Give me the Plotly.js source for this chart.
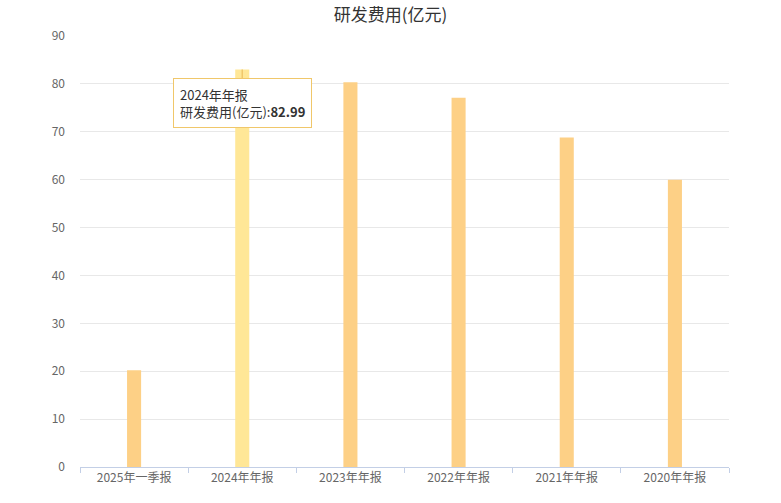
<!DOCTYPE html>
<html>
<head>
<meta charset="utf-8">
<script src="https://cdn.plot.ly/plotly-3.0.1.min.js"></script>
<style>
  html, body { margin: 0; padding: 0; background: #fff; }
  #chart { width: 781px; height: 503px; }
</style>
</head>
<body>
<div id="chart"></div>
<script>
var periods = ['2025年一季报', '2024年年报', '2023年年报', '2022年年报', '2021年年报', '2020年年报'];
var rdCost = [20.2, 82.99, 80.35, 77.1, 68.8, 60.0];
var seriesName = '研发费用(亿元)';
var hoverIndex = 1;

var barColors = periods.map(function (p, i) {
    return i === hoverIndex ? '#ffe797' : '#fdd086';
});

var data = [{
    type: 'bar',
    x: periods,
    y: rdCost,
    width: 0.13,
    marker: { color: barColors },
    hoverinfo: 'none'
}];

var layout = {
    width: 781,
    height: 503,
    margin: { l: 80, r: 52, t: 36, b: 36, pad: 0 },
    paper_bgcolor: '#fff',
    plot_bgcolor: '#fff',
    font: { family: '"Noto Sans CJK SC", "Noto Sans", sans-serif', color: '#666', size: 12 },
    showlegend: false,
    title: {
        text: seriesName,
        x: 0.5, xanchor: 'center',
        yref: 'container',
        y: 0.97, yanchor: 'middle',
        font: { size: 17, color: '#333' }
    },
    xaxis: {
        type: 'category',
        showgrid: false,
        showline: true,
        linecolor: '#c3cfe6',
        linewidth: 1,
        ticks: 'outside',
        tickson: 'boundaries',
        ticklen: 5,
        tickcolor: '#c3cfe6',
        tickfont: { size: 12, color: '#666' },
        fixedrange: true
    },
    yaxis: {
        range: [0, 90],
        dtick: 10,
        showline: false,
        zeroline: false,
        gridcolor: '#e8e8e8',
        ticks: '',
        ticklabelstandoff: 14,
        tickfont: { size: 12, color: '#666' },
        fixedrange: true
    },
    annotations: [{
        x: periods[hoverIndex],
        y: rdCost[hoverIndex],
        xref: 'x', yref: 'y',
        text: periods[hoverIndex] + '<br>' + seriesName + ':<b>' + rdCost[hoverIndex].toFixed(2) + '</b>',
        align: 'left',
        showarrow: true,
        arrowhead: 0,
        arrowwidth: 1.5,
        arrowcolor: '#f0c76a',
        ax: 0,
        ay: 33,
        bgcolor: '#ffffff',
        bordercolor: '#f0c76a',
        borderwidth: 1,
        borderpad: 6,
        font: { size: 13, color: '#333' }
    }]
};

Plotly.newPlot('chart', data, layout, { displayModeBar: false, staticPlot: true });
</script>
</body>
</html>
